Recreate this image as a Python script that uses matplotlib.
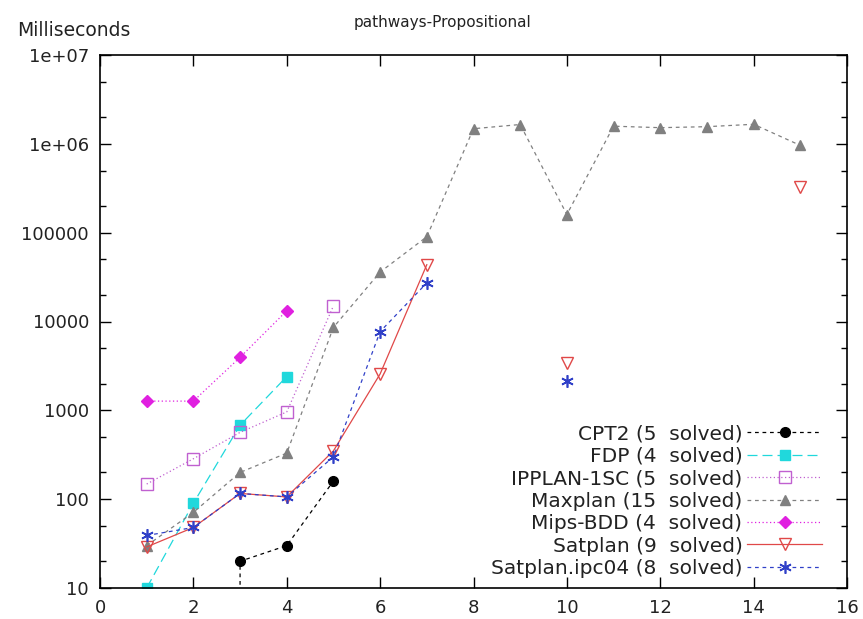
import numpy as np
import matplotlib
matplotlib.use("Agg")
import matplotlib.pyplot as plt
from matplotlib.ticker import FixedLocator, FixedFormatter, NullFormatter

nan = np.nan

# run times (ms) per problem instance
cpt2_x = [3, 3, 4, 5]
cpt2_y = [5, 20, 30, 160]
fdp_x = [1, 2, 3, 4]
fdp_y = [10, 90, 680, 2400]
ipplan_x = [1, 2, 3, 4, 5]
ipplan_y = [148, 285, 565, 960, 15000]
maxplan_x = [1, 2, 3, 4, 5, 6, 7, 8, 9, 10, 11, 12, 13, 14, 15]
maxplan_y = [30, 71, 200, 330, 8600, 36000, 90000, 1.48e6, 1.65e6, 1.6e5,
             1.58e6, 1.52e6, 1.56e6, 1.66e6, 9.6e5]
mips_x = [1, 2, 3, 4]
mips_y = [1270, 1270, 3950, 13200]
satplan_x = [1, 2, 3, 4, 5, 6, 7, nan, 10, nan, 15]
satplan_y = [29, 48, 116, 106, 350, 2570, 43600, nan, 3440, nan, 325000]
ipc04_x = [1, 2, 3, 4, 5, 6, 7, nan, 10]
ipc04_y = [39, 48, 116, 106, 300, 7700, 27200, nan, 2160]

ytick_vals = [10, 100, 1000, 10000, 100000, 1e6, 1e7]
ytick_labels = ["10", "100", "1000", "10000", "100000", "1e+06", "1e+07"]
xtick_vals = [0, 2, 4, 6, 8, 10, 12, 14, 16]

plt.rcParams['font.family'] = ['DejaVu Sans']
txt = '#222222'

fig = plt.figure(figsize=(8.63, 6.19), dpi=100)
ax = fig.add_axes([100 / 863, 1 - 588 / 619, 747 / 863, 533 / 619])

lw = 0.9
ms = 7
ax.plot(cpt2_x, cpt2_y, color='black', ls=(0, (3, 3)), lw=lw, marker='o',
        ms=ms, label='CPT2 (5  solved)')
ax.plot(fdp_x, fdp_y, color='#20d8dc', ls=(0, (8, 4)), lw=lw, marker='s',
        ms=ms, label='FDP (4  solved)')
ax.plot(ipplan_x, ipplan_y, color='#c060d0', ls=(0, (1, 2)), lw=lw, marker='s',
        ms=ms + 1, mfc='none', label='IPPLAN-1SC (5  solved)')
ax.plot(maxplan_x, maxplan_y, color='#808080', ls=(0, (3, 3)), lw=lw, marker='^',
        ms=ms, label='Maxplan (15  solved)')
ax.plot(mips_x, mips_y, color='#e020e0', ls=(0, (1, 2)), lw=lw, marker='D',
        ms=ms - 1, label='Mips-BDD (4  solved)')
ax.plot(satplan_x, satplan_y, color='#e04848', ls='-', lw=lw, marker='v',
        ms=ms + 1, mfc='none', label='Satplan (9  solved)')
ax.plot(ipc04_x, ipc04_y, color='#3040c8', ls=(0, (3, 3)), lw=lw,
        marker=(6, 2, 0), ms=ms + 2, mew=1.2, label='Satplan.ipc04 (8  solved)')

ax.set_yscale('log')
ax.set_xlim(0, 16)
ax.set_ylim(10, 1e7)
ax.xaxis.set_major_locator(FixedLocator(xtick_vals))
ax.yaxis.set_major_locator(FixedLocator(ytick_vals))
ax.yaxis.set_major_formatter(FixedFormatter(ytick_labels))
minor = [m * v for v in ytick_vals[:-1] for m in (2, 5)]
ax.yaxis.set_minor_locator(FixedLocator(minor))
ax.yaxis.set_minor_formatter(NullFormatter())

ax.tick_params(which='both', direction='in', top=True, right=True,
               labelsize=13, labelcolor=txt, width=1.0)
ax.tick_params(which='major', length=8, pad=8)
ax.tick_params(which='minor', length=4)
for s in ax.spines.values():
    s.set_linewidth(1.2)

fig.text(442 / 863, 1 - 22 / 619, 'pathways-Propositional', ha='center',
         va='center', fontsize=11, color=txt)
fig.text(17 / 863, 1 - 30 / 619, 'Milliseconds', ha='left', va='center',
         fontsize=13.5, color=txt)

ax.legend(loc='lower right', bbox_to_anchor=(0.98, 0.0), frameon=False,
          markerfirst=False, fontsize=14.5, handlelength=3.7, handletextpad=0.25,
          labelspacing=0.17, borderpad=0, labelcolor=txt)

fig.savefig('out.png', dpi=100)
